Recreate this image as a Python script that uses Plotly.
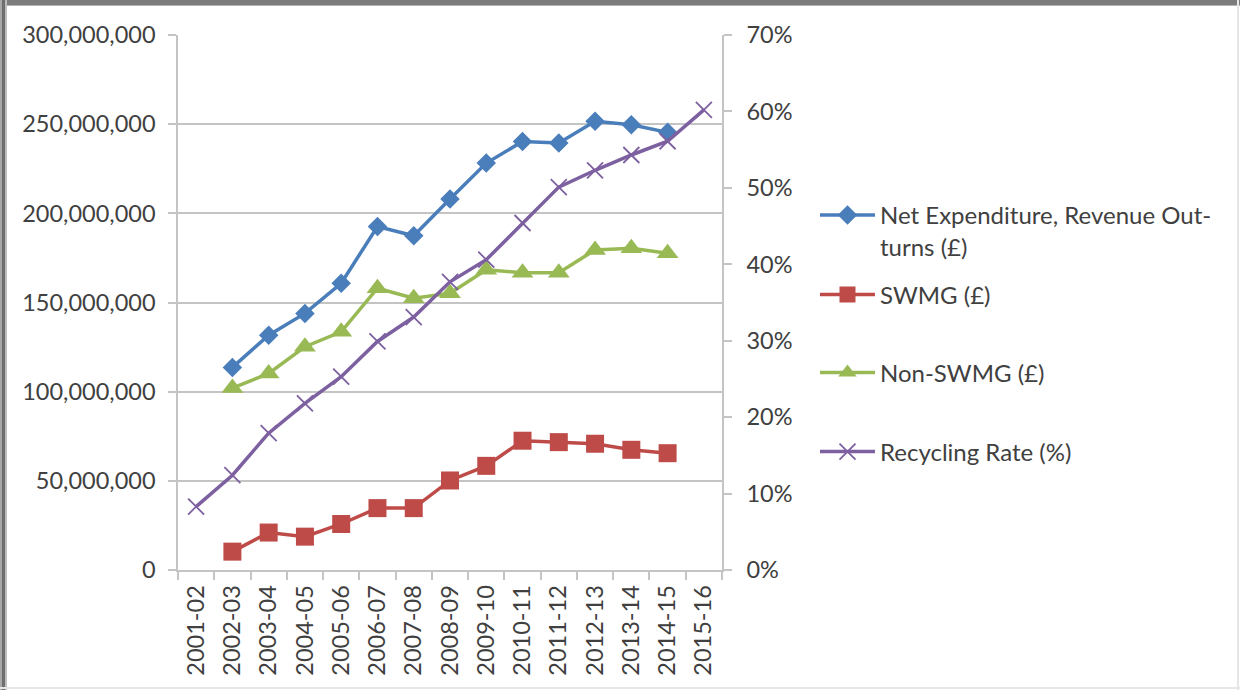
import plotly.graph_objects as go

years = ["2001-02", "2002-03", "2003-04", "2004-05", "2005-06", "2006-07", "2007-08",
         "2008-09", "2009-10", "2010-11", "2011-12", "2012-13", "2013-14", "2014-15", "2015-16"]

net_expenditure = [None, 113600000, 131700000, 143900000, 160800000, 192600000, 187400000,
                   208000000, 228200000, 240300000, 239400000, 251600000, 249700000, 245400000, None]
swmg = [None, 10300000, 21000000, 18700000, 25800000, 34700000, 34700000,
        50200000, 58400000, 72500000, 71700000, 70800000, 67400000, 65500000, None]
non_swmg = [None, 102000000, 110200000, 125200000, 133600000, 158000000, 152400000,
            155200000, 168300000, 166700000, 166700000, 179500000, 180400000, 177600000, None]
recycling_rate = [8.3, 12.4, 17.9, 21.8, 25.3, 29.9, 33.1, 37.7, 40.6, 45.4, 50.1, 52.3, 54.3, 56.1, 60.2]

left_ticks = [0, 50000000, 100000000, 150000000, 200000000, 250000000, 300000000]
right_ticks = [0, 10, 20, 30, 40, 50, 60, 70]
right_labels = [f"{v}%" for v in right_ticks]

names = ["Net Expenditure, Revenue Out-<br>turns (£)", "SWMG (£)", "Non-SWMG (£)", "Recycling Rate (%)"]
colors = ["#4a7ebb", "#be4b48", "#98b954", "#7d60a0"]

FONT = "Lato"
TXT = "#404040"
GRID = "#c4c4c4"
FS = 23.5

fig = go.Figure()
fig.add_trace(go.Scatter(x=years, y=net_expenditure, name=names[0], mode="lines+markers",
                         line=dict(color=colors[0], width=3.5),
                         marker=dict(symbol="diamond", size=15, color=colors[0]),
                         legend="legend"))
fig.add_trace(go.Scatter(x=years, y=swmg, name=names[1], mode="lines+markers",
                         line=dict(color=colors[1], width=3.5),
                         marker=dict(symbol="square", size=18, color=colors[1]),
                         legend="legend2"))
fig.add_trace(go.Scatter(x=years, y=non_swmg, name=names[2], mode="lines+markers",
                         line=dict(color=colors[2], width=3.5),
                         marker=dict(symbol="triangle-up", size=19, color=colors[2]),
                         legend="legend3"))
fig.add_trace(go.Scatter(x=years, y=recycling_rate, name=names[3], mode="lines+markers",
                         yaxis="y2",
                         line=dict(color=colors[3], width=3.5),
                         marker=dict(symbol="x-thin", size=16, line=dict(color=colors[3], width=1.8)),
                         legend="legend4"))

W, H = 1240, 690


def leg(px, py, anchor="middle"):
    return dict(x=px / W, y=1 - py / H, xref="container", yref="container",
                xanchor="left", yanchor=anchor, bgcolor="rgba(0,0,0,0)",
                font=dict(family=FONT, size=24, color=TXT), itemwidth=55, valign="top")


fig.update_layout(
    width=W, height=H,
    margin=dict(l=178, r=W - 722, t=35, b=H - 570),
    paper_bgcolor="white", plot_bgcolor="white",
    font=dict(family=FONT, size=FS, color=TXT),
    showlegend=True,
    legend=leg(815, 193, "top"),
    legend2=leg(815, 295),
    legend3=leg(815, 373),
    legend4=leg(815, 452),
    xaxis=dict(type="category", range=[-0.5, 14.5], tickangle=-90, showgrid=False,
               showline=True, linecolor=GRID, linewidth=1.5, ticks="outside", tickson="boundaries",
               ticklen=8, tickcolor=GRID, tickwidth=1.5, ticklabelstandoff=4,
               tickfont=dict(family=FONT, size=FS, color=TXT)),
    yaxis=dict(range=[0, 300000000], tickmode="array", tickvals=left_ticks, tickformat=",",
               showgrid=True, gridcolor=GRID, gridwidth=1.5, showline=True, linecolor=GRID,
               linewidth=1.5, ticks="outside", ticklen=8, tickcolor=GRID, tickwidth=1.5,
               zeroline=False, ticklabelstandoff=8,
               tickfont=dict(family=FONT, size=FS, color=TXT)),
    yaxis2=dict(range=[0, 70], tickmode="array", tickvals=right_ticks, ticktext=right_labels,
                overlaying="y", side="right",
                showgrid=False, showline=True, linecolor=GRID, linewidth=1.5, ticks="outside",
                ticklen=8, tickcolor=GRID, tickwidth=1.5, zeroline=False, ticklabelstandoff=10,
                tickfont=dict(family=FONT, size=FS, color=TXT)),
)

# outer frame of the picture
frame = [
    (0, 0, W, 5, "#7c7c7c"),
    (0, 5, W, 6, "#b4b4b4"),
    (0, 0, 2, H, "#a8a8a8"),
    (2, 0, 5, H, "#6e6e6e"),
    (5, 0, 7, H, "#bdbdbd"),
    (0, 687, W, 689, "#e6e6e6"),
    (1237, 0, 1239, H, "#e6e6e6"),
]
for x0, y0, x1, y1, c in frame:
    fig.add_shape(type="rect", xref="paper", yref="paper",
                  x0=(x0 - 178) / 544, x1=(x1 - 178) / 544,
                  y0=(570 - y0) / 535, y1=(570 - y1) / 535,
                  fillcolor=c, line=dict(width=0), layer="above")

fig.write_html("out.html")
